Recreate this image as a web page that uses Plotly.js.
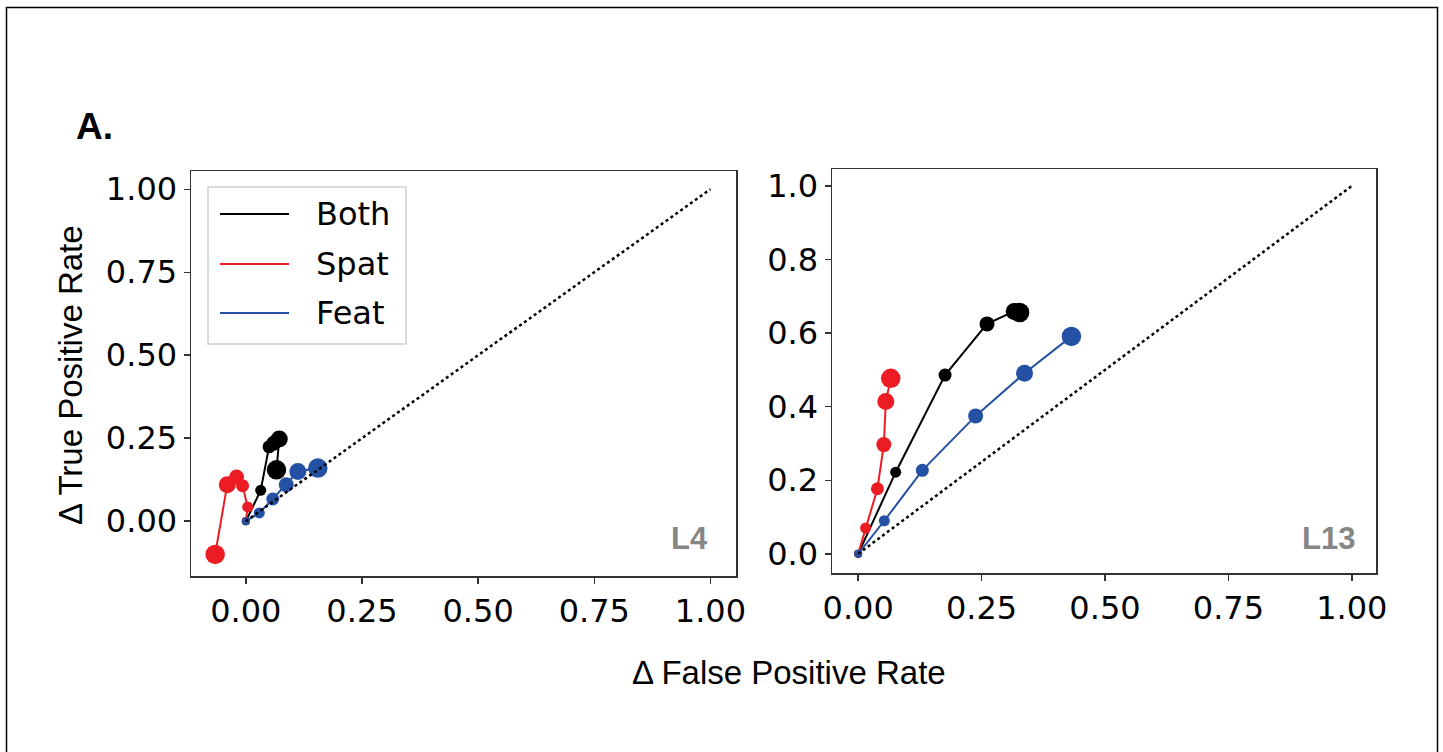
<!DOCTYPE html>
<html>
<head>
<meta charset="utf-8">
<script src="https://cdn.plot.ly/plotly-3.0.1.min.js"></script>
<style>
  html, body { margin: 0; padding: 0; background: #fff; }
  #chart { width: 1443px; height: 752px; }
</style>
</head>
<body>
<div id="chart"></div>
<script>
// Series names (legend order)
const seriesNames = ['Both', 'Spat', 'Feat'];

// Layer L4: change in false / true positive rate per step
const l4BothFPR = [0, 0.032, 0.050, 0.060, 0.072, 0.066];
const l4BothTPR = [0, 0.093, 0.224, 0.235, 0.248, 0.155];
const l4SpatFPR = [0, 0.004, -0.007, -0.020, -0.040, -0.066];
const l4SpatTPR = [0, 0.043, 0.107, 0.133, 0.110, -0.100];
const l4FeatFPR = [0, 0.029, 0.058, 0.087, 0.112, 0.155];
const l4FeatTPR = [0, 0.025, 0.067, 0.110, 0.150, 0.160];

// Layer L13
const l13BothFPR = [0, 0.076, 0.176, 0.261, 0.316, 0.327];
const l13BothTPR = [0, 0.222, 0.486, 0.625, 0.659, 0.656];
const l13SpatFPR = [0, 0.015, 0.039, 0.052, 0.056, 0.066];
const l13SpatTPR = [0, 0.070, 0.177, 0.297, 0.414, 0.477];
const l13FeatFPR = [0, 0.053, 0.130, 0.238, 0.337, 0.432];
const l13FeatTPR = [0, 0.090, 0.227, 0.375, 0.491, 0.591];

// Chance diagonal
const diagX = [0, 1];
const diagY = [0, 1];

// Tick values
const xTicks = [0, 0.25, 0.5, 0.75, 1.0];
const yTicksL4 = [0, 0.25, 0.5, 0.75, 1.0];
const yTicksL13 = [0, 0.2, 0.4, 0.6, 0.8, 1.0];

// Styling
const colors = { Both: '#000000', Spat: '#ec1c24', Feat: '#2451a3' };
const markerSizes = [8, 11, 13, 15, 17, 19.5];

const W = 1443, H = 752;
const px = v => v / W;
const py = v => 1 - v / H;

function series(x, y, name, xa, ya) {
  return {
    type: 'scatter', mode: 'lines+markers', x: x, y: y, name: name,
    xaxis: xa, yaxis: ya, showlegend: false, hoverinfo: 'skip',
    line: { color: colors[name], width: 2 },
    marker: { color: colors[name], size: markerSizes, opacity: 1, line: { width: 0 } }
  };
}
function diagonal(xa, ya) {
  return {
    type: 'scatter', mode: 'lines', x: diagX, y: diagY, xaxis: xa, yaxis: ya,
    showlegend: false, hoverinfo: 'skip',
    line: { color: '#000', width: 2.5, dash: 'dot' }
  };
}

const traces = [
  series(l4BothFPR, l4BothTPR, 'Both', 'x', 'y'),
  series(l4SpatFPR, l4SpatTPR, 'Spat', 'x', 'y'),
  series(l4FeatFPR, l4FeatTPR, 'Feat', 'x', 'y'),
  diagonal('x', 'y'),
  series(l13BothFPR, l13BothTPR, 'Both', 'x2', 'y2'),
  series(l13SpatFPR, l13SpatTPR, 'Spat', 'x2', 'y2'),
  series(l13FeatFPR, l13FeatTPR, 'Feat', 'x2', 'y2'),
  diagonal('x2', 'y2')
];

const tickFont = { family: 'DejaVu Sans', size: 32, color: '#000' };
function axis(extra) {
  return Object.assign({
    showgrid: false, zeroline: false, showline: true, mirror: true,
    linecolor: '#333', linewidth: 1.5,
    ticks: 'outside', ticklen: 6, tickwidth: 1.5, tickcolor: '#333',
    tickfont: tickFont, fixedrange: true
  }, extra);
}
const fmt2 = v => v.toFixed(2);
const fmt1 = v => v.toFixed(1);

const shapes = [
  // outer frame
  { type: 'rect', xref: 'paper', yref: 'paper', x0: px(6.5), x1: px(1437.5), y0: -0.02, y1: py(7.5),
    line: { color: '#000', width: 1.5 }, fillcolor: 'rgba(0,0,0,0)' },
  // legend box
  { type: 'rect', xref: 'paper', yref: 'paper', x0: px(208), x1: px(406), y0: py(344), y1: py(187),
    line: { color: '#d0d0d0', width: 1.5 }, fillcolor: 'rgba(255,255,255,0.85)' }
];
const legendRows = [214, 264, 313];
const annotations = [];
seriesNames.forEach((name, i) => {
  shapes.push({ type: 'line', xref: 'paper', yref: 'paper', x0: px(220), x1: px(289),
    y0: py(legendRows[i]), y1: py(legendRows[i]), line: { color: colors[name], width: 2 } });
  annotations.push({ xref: 'paper', yref: 'paper', x: px(314), y: py(legendRows[i]),
    xanchor: 'left', yanchor: 'middle', showarrow: false, text: name,
    font: { family: 'DejaVu Sans', size: 32, color: '#000' } });
});

annotations.push(
  { xref: 'paper', yref: 'paper', x: px(74), y: py(126), xanchor: 'left', yanchor: 'middle',
    showarrow: false, text: '<b>A.</b>', font: { family: 'Liberation Sans', size: 37, color: '#000' } },
  { xref: 'paper', yref: 'paper', x: px(689), y: py(538), xanchor: 'center', yanchor: 'middle',
    showarrow: false, text: '<b>L4</b>', font: { family: 'Liberation Sans', size: 31, color: '#868686' } },
  { xref: 'paper', yref: 'paper', x: px(1328), y: py(538), xanchor: 'center', yanchor: 'middle',
    showarrow: false, text: '<b>L13</b>', font: { family: 'Liberation Sans', size: 31, color: '#868686' } },
  { xref: 'paper', yref: 'paper', x: px(789), y: py(672), xanchor: 'center', yanchor: 'middle',
    showarrow: false, text: 'Δ False Positive Rate', font: { family: 'Liberation Sans', size: 33, color: '#000' } },
  { xref: 'paper', yref: 'paper', x: px(70), y: py(375), xanchor: 'center', yanchor: 'middle', textangle: -90,
    showarrow: false, text: 'Δ True Positive Rate', font: { family: 'Liberation Sans', size: 33, color: '#000' } }
);

const layout = {
  width: W, height: H,
  margin: { l: 0, r: 0, t: 0, b: 0 },
  paper_bgcolor: '#fff', plot_bgcolor: '#fff',
  showlegend: false,
  xaxis: axis({ domain: [px(191), px(736)], range: [-0.118, 1.055], anchor: 'y',
    tickvals: xTicks, ticktext: xTicks.map(fmt2) }),
  yaxis: axis({ domain: [py(576), py(171)], range: [-0.165, 1.055], anchor: 'x',
    tickvals: yTicksL4, ticktext: yTicksL4.map(fmt2) }),
  xaxis2: axis({ domain: [px(832), px(1376)], range: [-0.053, 1.049], anchor: 'y2',
    tickvals: xTicks, ticktext: xTicks.map(fmt2) }),
  yaxis2: axis({ domain: [py(573), py(169)], range: [-0.052, 1.046], anchor: 'x2',
    tickvals: yTicksL13, ticktext: yTicksL13.map(fmt1) }),
  shapes: shapes,
  annotations: annotations
};

Plotly.newPlot('chart', traces, layout, { staticPlot: true, displayModeBar: false });
</script>
</body>
</html>
